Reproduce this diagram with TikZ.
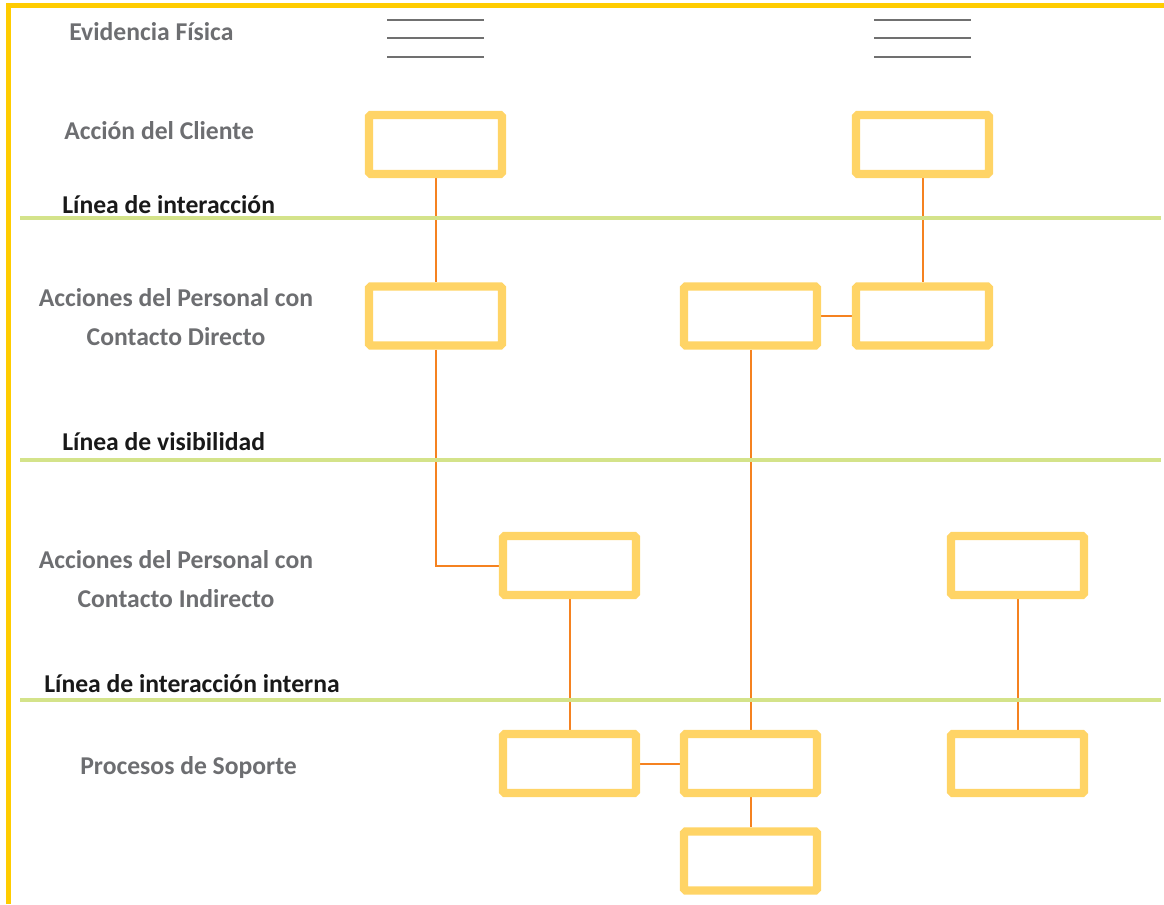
\documentclass[tikz,border=0pt]{standalone}
\usepackage{fontspec}
\setmainfont{Carlito}
\usetikzlibrary{backgrounds}

\definecolor{marco}{HTML}{FFCC00}
\definecolor{caja}{HTML}{FFD466}
\definecolor{enlace}{HTML}{F58220}
\definecolor{linea}{HTML}{D4E38A}
\definecolor{rotulo}{HTML}{6D6E71}
\definecolor{evid}{HTML}{707070}

\begin{document}
\begin{tikzpicture}[
		x=0.02cm, y=-0.02cm,
		box/.style={draw=caja, line width=4.7pt, fill=white, rounded corners=1pt,
			minimum width=2.66cm, minimum height=1.18cm, inner sep=0pt},
		link/.style={draw=enlace, line width=1.14pt},
		sepline/.style={draw=linea, line width=2.5pt},
		lane/.style={text=rotulo, font=\bfseries\fontsize{14.6}{22.2}\selectfont, inner sep=0pt},
		sep/.style={text=black!90, font=\bfseries\fontsize{14.6}{17}\selectfont, inner sep=0pt, anchor=base west},
		]
		\useasboundingbox (0,0) rectangle (1164,904);
		
		% marco
		\draw[marco, line width=2.6pt] (8.5,904) -- (8.5,5.5) -- (1164,5.5);
		
		% lineas
		\draw[sepline] (20,218) -- (1161,218);
		\draw[sepline] (20,460) -- (1161,460);
		\draw[sepline] (20,700) -- (1161,700);
		\node[sep] (lint) at (62,213) {Línea de interacción};
		\node[sep] (lvis) at (62,450) {Línea de visibilidad};
		\node[sep] (lintint) at (44,692) {Línea de interacción interna};
		
		% rotulos
		\node[lane, anchor=base west] (evi) at (69,40) {Evidencia Física};
		\node[lane, anchor=base west] (acc) at (64,139) {Acción del Cliente};
		\node[lane, align=center] (pdir) at (176,317) {Acciones del Personal con\\Contacto Directo};
		\node[lane, align=center] (pind) at (176,579) {Acciones del Personal con\\Contacto Indirecto};
		\node[lane, anchor=base west] (sop) at (80,774) {Procesos de Soporte};
		
		% evidencia fisica
		\foreach \y in {20,38,57} {
			\draw[evid, line width=1.1pt] (387,\y) -- (484,\y);
			\draw[evid, line width=1.1pt] (874,\y) -- (971,\y);
		}
		
		% cajas
		\node[box] (cli1) at (435.5,144.5) {};
		\node[box] (cli2) at (922.5,144.5) {};
		\node[box] (dir1) at (435.5,316) {};
		\node[box] (dir2) at (750.5,316) {};
		\node[box] (dir3) at (922.5,316) {};
		\node[box] (ind1) at (569.5,565.5) {};
		\node[box] (ind2) at (1017.5,565.5) {};
		\node[box] (sop1) at (569.5,763.5) {};
		\node[box] (sop2) at (750.5,763.5) {};
		\node[box] (sop3) at (1017.5,763.5) {};
		\node[box] (sop4) at (750.5,861) {};
		
		\begin{scope}[on background layer]
			\draw[link] (cli1) -- (dir1);
			\draw[link] (cli2) -- (dir3);
			\draw[link] (dir2) -- (dir3);
			\draw[link] (dir1) |- (ind1);
			\draw[link] (dir2) -- (sop2);
			\draw[link] (ind1) -- (sop1);
			\draw[link] (ind2) -- (sop3);
			\draw[link] (sop1) -- (sop2);
			\draw[link] (sop2) -- (sop4);
		\end{scope}
		
	\end{tikzpicture}
\end{document}
